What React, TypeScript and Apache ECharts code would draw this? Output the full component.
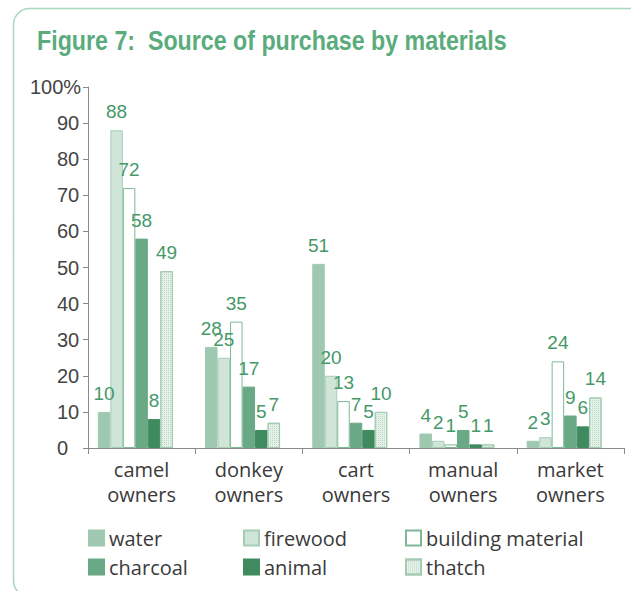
import React, { useEffect, useRef } from "react";
import * as echarts from "echarts";

const categories = ["camel\nowners", "donkey\nowners", "cart\nowners", "manual\nowners", "market\nowners"];
const water = [10, 28, 51, 4, 2];
const firewood = [88, 25, 20, 2, 3];
const building = [72, 35, 13, 1, 24];
const charcoal = [58, 17, 7, 5, 9];
const animal = [8, 5, 5, 1, 6];
const thatch = [49, 7, 10, 1, 14];
const yTicks = [0, 10, 20, 30, 40, 50, 60, 70, 80, 90, 100];

const LABEL_COLOR = "#469868";

export default function App() {
  const ref = useRef<HTMLDivElement>(null);
  useEffect(() => {
    const chart = echarts.init(ref.current!, null, { renderer: "svg" });
    const label = {
      show: true,
      position: "top",
      distance: 9,
      color: LABEL_COLOR,
      fontSize: 19,
      fontFamily: "'Liberation Sans', Arial, sans-serif",
    };
    const mk = (name: string, data: number[], itemStyle: any) => ({
      name,
      type: "bar",
      data,
      barWidth: 12.5,
      barGap: "0%",
      label,
      itemStyle,
    });
    const series: any[] = [
      mk("water", water, { color: "#9fc8b0", borderColor: "#9fc8b0", borderWidth: 1 }),
      mk("firewood", firewood, { color: "#d0e5d8", borderColor: "#a6ceb6", borderWidth: 1 }),
      mk("building material", building, { color: "#ffffff", borderColor: "#7db995", borderWidth: 1 }),
      mk("charcoal", charcoal, { color: "#6aa986", borderColor: "#6aa986", borderWidth: 1 }),
      mk("animal", animal, { color: "#3f8b5f", borderColor: "#3f8b5f", borderWidth: 1 }),
      mk("thatch", thatch, {
        color: "#e6f1ea",
        borderColor: "#a3cbb1",
        borderWidth: 1,
        decal: {
          symbol: "rect",
          symbolSize: 1,
          color: "#bcd9c6",
          dashArrayX: [1, 1],
          dashArrayY: [1, 1],
          rotation: 0,
        },
      }),
      {
        name: "spacer",
        type: "bar",
        data: categories.map(() => null),
        barWidth: 12.5,
        barGap: "0%",
        silent: true,
      },
    ];
    const legendText = {
      color: "#3a3a3a",
      fontSize: 20,
      lineHeight: 22,
      fontFamily: "'Open Sans', 'Noto Sans', sans-serif",
    };
    const legendBase = {
      orient: "vertical",
      top: 527,
      itemWidth: 15,
      itemHeight: 15,
      itemGap: 7,
      icon: "rect",
      textStyle: legendText,
      padding: 0,
      selectedMode: false,
    };
    chart.setOption({
      animation: false,
      backgroundColor: "#ffffff",
      graphic: [
        {
          type: "rect",
          shape: { x: 13.5, y: 8.5, width: 700, height: 588, r: 16 },
          style: { fill: "none", stroke: "#a9d6bd", lineWidth: 1.5 },
          silent: true,
        },
        {
          type: "text",
          x: 37,
          y: 40,
          scaleX: 0.86,
          style: {
            text: "Figure 7:  Source of purchase by materials",
            fill: "#5aac7d",
            fontSize: 27,
            fontWeight: "bold",
            fontFamily: "'Liberation Sans', Arial, sans-serif",
            verticalAlign: "middle",
            align: "left",
          },
        },
        {
          type: "text",
          x: 30,
          y: 87,
          style: {
            text: "100%",
            fill: "#444444",
            fontSize: 20,
            fontFamily: "'Liberation Sans', Arial, sans-serif",
            verticalAlign: "middle",
            align: "left",
          },
        },
      ],
      legend: [
        { ...legendBase, left: 88, data: ["water", "charcoal"] },
        { ...legendBase, left: 243, data: ["firewood", "animal"] },
        { ...legendBase, left: 405, data: ["building material", "thatch"] },
      ],
      grid: { left: 88, right: 7, top: 87, bottom: 143, containLabel: false },
      xAxis: {
        type: "category",
        data: categories,
        axisLine: { lineStyle: { color: "#8a8a8a", width: 1 } },
        axisTick: { show: true, length: 6, lineStyle: { color: "#8a8a8a" } },
        axisLabel: {
          color: "#3a3a3a",
          fontSize: 20,
          lineHeight: 25,
          margin: 9,
          fontFamily: "'Open Sans', 'Noto Sans', sans-serif",
        },
      },
      yAxis: {
        type: "value",
        min: 0,
        max: 100,
        interval: 10,
        splitLine: { show: false },
        axisLine: { show: true, lineStyle: { color: "#8a8a8a", width: 1 } },
        axisTick: { show: true, length: 5, lineStyle: { color: "#8a8a8a" } },
        axisLabel: {
          color: "#444444",
          fontSize: 20,
          margin: 31,
          align: "left",
          fontFamily: "'Liberation Sans', Arial, sans-serif",
          formatter: (v: number) => (v === 100 ? "" : yTicks.includes(v) ? String(v) : ""),
        },
      },
      series,
    });
    return () => chart.dispose();
  }, []);
  return (
    <div
      ref={ref}
      style={{ position: "absolute", left: 0, top: 0, width: 631, height: 591 }}
    />
  );
}
